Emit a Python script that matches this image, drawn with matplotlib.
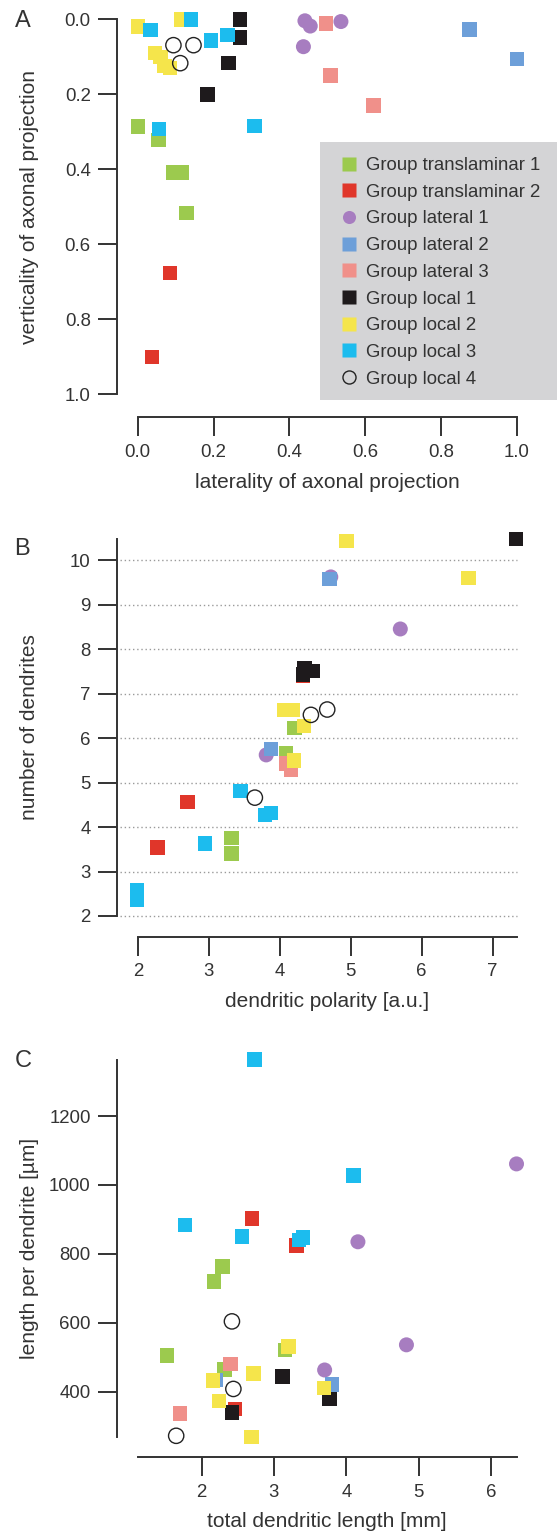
import matplotlib
matplotlib.use("Agg")
import matplotlib.pyplot as plt
from matplotlib.lines import Line2D
from matplotlib.patches import Rectangle

plt.rcParams['font.family'] = ['Liberation Sans', 'DejaVu Sans']

groups = ["Group translaminar 1", "Group translaminar 2", "Group lateral 1",
          "Group lateral 2", "Group lateral 3", "Group local 1",
          "Group local 2", "Group local 3", "Group local 4"]
colors = ['#9cca4e', '#e0362a', '#a77dc0', '#6d9fd9', '#f0908a',
          '#1e1a1c', '#f5e54b', '#1cbcee', 'none']
markers = ['s', 's', 'o', 's', 's', 's', 's', 's', 'o']

# panel A: laterality vs verticality of axonal projection
a_x = [[0.0, 0.055, 0.094, 0.116, 0.128],
       [0.085, 0.038],
       [0.441, 0.455, 0.536, 0.437],
       [0.875, 1.0],
       [0.497, 0.509, 0.622],
       [0.27, 0.27, 0.239, 0.184],
       [0.0, 0.114, 0.045, 0.06, 0.085, 0.07],
       [0.034, 0.141, 0.237, 0.193, 0.056, 0.308],
       [0.094, 0.147, 0.112]]
a_y = [[0.286, 0.322, 0.408, 0.408, 0.517],
       [0.677, 0.90],
       [0.004, 0.018, 0.006, 0.073],
       [0.027, 0.106],
       [0.011, 0.15, 0.23],
       [0.0, 0.048, 0.117, 0.2],
       [0.019, 0.0, 0.09, 0.10, 0.13, 0.125],
       [0.028, 0.0, 0.042, 0.057, 0.293, 0.285],
       [0.069, 0.069, 0.117]]

# panel B: dendritic polarity vs number of dendrites
b_x = [[4.21, 4.09, 3.32, 3.32],
       [2.70, 2.28, 4.33],
       [4.72, 5.70, 3.81],
       [4.70, 3.88],
       [4.09, 4.16],
       [7.33, 4.35, 4.46, 4.33],
       [4.94, 6.66, 4.06, 4.19, 4.34, 4.20],
       [3.45, 3.79, 3.88, 2.95, 1.99, 1.99],
       [4.44, 4.67, 3.65]]
b_y = [[6.22, 5.66, 3.75, 3.40],
       [4.56, 3.54, 7.40],
       [9.62, 8.45, 5.62],
       [9.57, 5.75],
       [5.43, 5.28],
       [10.47, 7.56, 7.51, 7.43],
       [10.43, 9.59, 6.63, 6.63, 6.27, 5.49],
       [4.81, 4.27, 4.32, 3.63, 2.58, 2.36],
       [6.52, 6.64, 4.66]]

# panel C: total dendritic length vs length per dendrite
c_x = [[2.29, 2.17, 3.15, 1.52, 2.32],
       [2.70, 3.31, 2.46],
       [6.35, 4.16, 4.83, 3.70],
       [2.19, 3.80],
       [2.40, 1.70],
       [3.12, 3.77, 2.42],
       [3.20, 2.72, 2.16, 3.69, 2.24, 2.69],
       [2.73, 4.10, 1.77, 2.56, 3.35, 3.40],
       [2.42, 2.44, 1.65]]
c_y = [[763, 720, 521, 505, 465],
       [903, 824, 350],
       [1061, 835, 536, 463],
       [434, 421],
       [480, 337],
       [444, 378, 340],
       [531, 453, 432, 410, 373, 268],
       [1364, 1027, 884, 850, 840, 848],
       [604, 408, 272]]

W, H = 557, 1533
fig = plt.figure(figsize=(W / 100, H / 100), dpi=100)
ink = '#333333'


def make_axes(top_px, bottom_px):
    return fig.add_axes([137.8 / W, 1 - bottom_px / H, 379 / W, (bottom_px - top_px) / H])


def draw(ax, xs, ys):
    for i in range(len(groups)):
        if markers[i] == 'o' and colors[i] == 'none':
            ax.scatter(xs[i], ys[i], s=11 ** 2, marker='o', facecolors='none',
                       edgecolors='#222222', linewidths=1.0, clip_on=False, zorder=3 + i)
        else:
            size = 10.8 if markers[i] == 'o' else 10.4
            ax.scatter(xs[i], ys[i], s=size ** 2, marker=markers[i], c=colors[i],
                       edgecolors='none', clip_on=False, zorder=3 + i)


def style(ax, left_off, bottom_off, xlab, ylab, xlab_y):
    for s in ['top', 'right']:
        ax.spines[s].set_visible(False)
    ax.spines['left'].set_position(('outward', left_off))
    ax.spines['bottom'].set_position(('outward', bottom_off))
    for s in ['left', 'bottom']:
        ax.spines[s].set_linewidth(1.4)
        ax.spines[s].set_color(ink)
    ax.tick_params(direction='out', length=13.7, width=1.4, pad=5.5,
                   labelsize=13.4, colors=ink)
    ax.set_xlabel(xlab, fontsize=15, color=ink, va='center')
    ax.set_ylabel(ylab, fontsize=15, color=ink, va='center')
    ax.xaxis.set_label_coords(0.5, xlab_y)
    ax.yaxis.set_label_coords(-0.285, 0.5)
    ax.patch.set_visible(False)


# A
axA = make_axes(19.3, 394.3)
draw(axA, a_x, a_y)
axA.set_xlim(0, 1)
axA.set_ylim(1, 0)
axA.set_xticks([0, 0.2, 0.4, 0.6, 0.8, 1.0])
axA.set_yticks([0, 0.2, 0.4, 0.6, 0.8, 1.0])
axA.set_xticklabels(['0.0', '0.2', '0.4', '0.6', '0.8', '1.0'])
axA.set_yticklabels(['0.0', '0.2', '0.4', '0.6', '0.8', '1.0'])
style(axA, 14.7, 16.3, 'laterality of axonal projection',
      'verticality of axonal projection', -88 / 375)

# B
axB = make_axes(539, 916)
axB.hlines(range(2, 11), -0.047, 1.0, transform=axB.get_yaxis_transform(),
           colors='#9a9a9a', linestyles=(0, (1, 2)), linewidth=1.0, clip_on=False, zorder=1)
draw(axB, b_x, b_y)
axB.set_xlim(2, 7.342)
axB.set_ylim(2, 10.472)
axB.set_xticks(range(2, 8))
axB.set_yticks(range(2, 11))
style(axB, 14.7, 14.9, 'dendritic polarity [a.u.]', 'number of dendrites', -85.7 / 377)

# C
axC = make_axes(1060, 1436.7)
draw(axC, c_x, c_y)
axC.set_xlim(1.120, 6.354)
axC.set_ylim(269.4, 1362.5)
axC.set_xticks(range(2, 7))
axC.set_yticks([400, 600, 800, 1000, 1200])
style(axC, 14.7, 14.8, 'total dendritic length [mm]', 'length per dendrite [µm]', -85 / 376.7)

# legend box
fig.add_artist(Rectangle((320 / W, 1 - 400 / H), 237 / W, 258 / H, transform=fig.transFigure,
                         facecolor='#d4d4d6', edgecolor='none', zorder=20))
handles = []
for i in range(len(groups)):
    if colors[i] == 'none':
        handles.append(Line2D([], [], ls='none', marker='o', ms=9.4, mfc='none',
                              mec='#222222', mew=1.0))
    else:
        handles.append(Line2D([], [], ls='none', marker=markers[i], ms=9.4,
                              mfc=colors[i], mec='none'))
leg = fig.legend(handles, groups, loc='upper left', bbox_to_anchor=(339.75 / W, 1 - 157 / H),
                 frameon=False, fontsize=13.4, handlelength=1.0, handletextpad=0.4,
                 borderpad=0, borderaxespad=0, labelspacing=0.52)
leg.set_zorder(21)
for t in leg.get_texts():
    t.set_color(ink)

# panel letters
for letter, (px, py) in zip('ABC', [(23, 21), (22, 549), (23, 1061)]):
    fig.text(px / W, 1 - py / H, letter, fontsize=17, color=ink, ha='center', va='center')

fig.savefig('out.png', dpi=100)
